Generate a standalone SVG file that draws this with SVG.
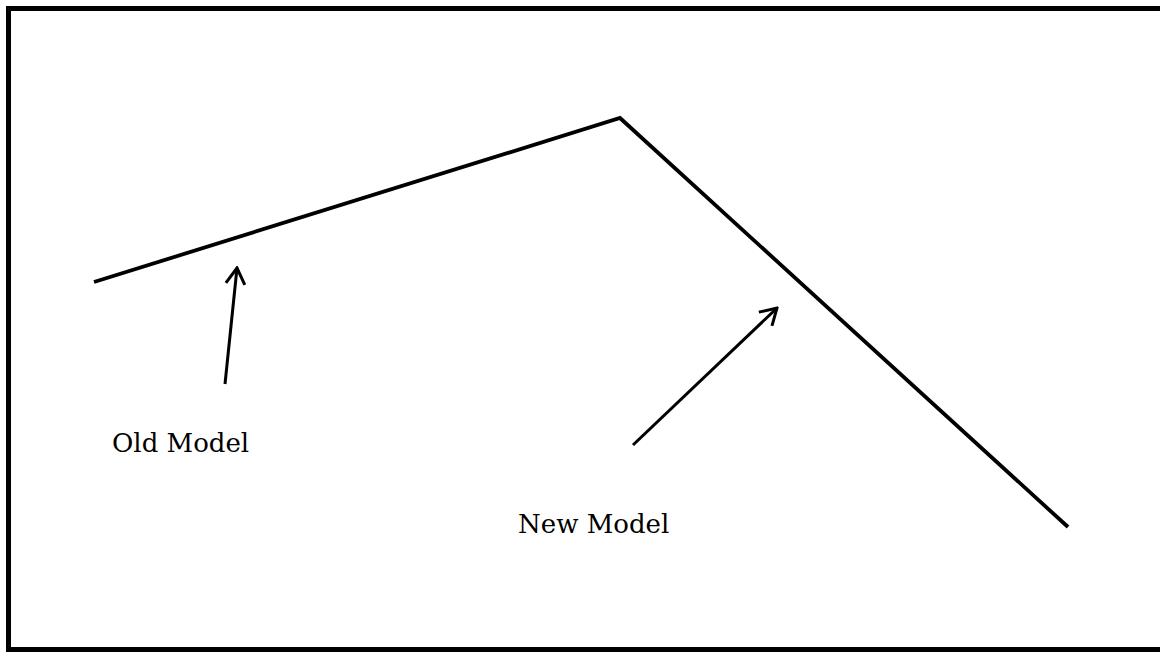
<svg xmlns="http://www.w3.org/2000/svg" width="1160" height="652" viewBox="0 0 1160 652">
<defs>
<style>
.lbl{font-family:"DejaVu Serif","Liberation Serif",serif;font-size:26px;fill:#000}
.arr{stroke:#000;stroke-width:3;fill:none}
</style>
<marker id="open2" viewBox="0 0 20 22" refX="18" refY="11" markerWidth="20" markerHeight="22" markerUnits="userSpaceOnUse" orient="auto">
<path d="M2,1.5 L18,11 L2,20.5" fill="none" stroke="#000" stroke-width="3"/>
</marker>
</defs>
<rect x="0" y="0" width="1160" height="652" fill="#fff"/>
<rect id="frame" x="8.5" y="8.5" width="1160" height="641" fill="none" stroke="#000" stroke-width="5"/>
<g id="curve">
<polyline points="94,282 620,118 1068,527" fill="none" stroke="#000" stroke-width="3.8" stroke-linejoin="miter"/>
</g>
<g id="connectors">
<line class="arr" x1="225" y1="384" x2="237" y2="268" marker-end="url(#open2)"/>
<line class="arr" x1="633" y1="445" x2="777" y2="308" marker-end="url(#open2)"/>
</g>
<g id="old-model"><text class="lbl" x="112" y="452">Old Model</text></g>
<g id="new-model"><text class="lbl" x="518" y="533">New Model</text></g>
</svg>
